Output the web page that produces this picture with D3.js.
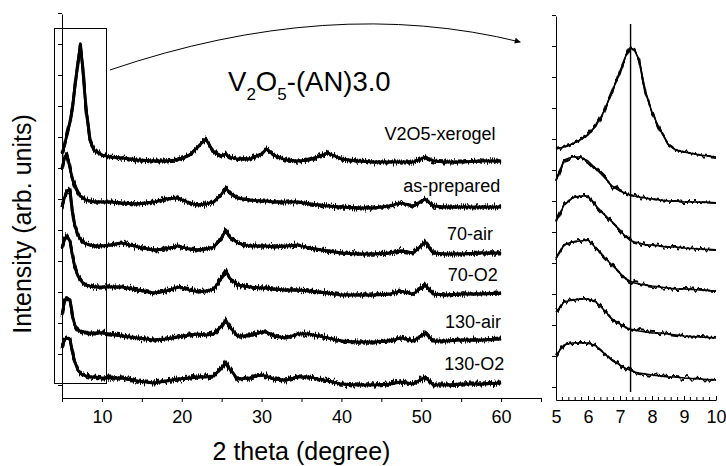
<!DOCTYPE html>
<html>
<head>
<meta charset="utf-8">
<script src="https://cdn.jsdelivr.net/npm/d3@7"></script>
<style>
  body { margin: 0; background: #fff; }
  svg { display: block; font-family: "Liberation Sans", Arial, sans-serif; }
</style>
</head>
<body>
<svg id="chart" width="726" height="466"></svg>
<script>
// sample names, top to bottom
var samples = ["V2O5-xerogel", "as-prepared", "70-air", "70-O2", "130-air", "130-O2"];

// main panel: 2 theta grid (degree) and stacked intensities (arb. units)
var mainTheta = [5, 5.3, 5.6, 6, 6.3, 6.6, 7, 7.3, 7.6, 8, 8.5, 9, 10, 11, 12.5, 14.5, 16.5, 18, 19.5, 21, 22, 23, 24, 25, 25.5, 26, 27, 28.5, 30, 30.6, 31.5, 33, 34.5, 36, 38.3, 40, 42, 44, 46, 47.4, 49, 50.5, 51.5, 53, 55, 57.5, 60];
var xerogelMain = [245, 252, 263, 276, 290, 310, 336, 353, 330, 290, 258, 248, 243, 241, 240, 238, 237, 237, 238, 243, 251, 259, 246, 242, 244, 241, 239, 239, 244, 249, 243, 238, 237, 238, 245, 239, 237, 236, 236, 236, 236, 241, 237, 236, 236, 237, 237];
var asPreparedMain = [230, 240, 244, 230, 219, 212, 205, 202, 200, 198, 197, 196, 196, 196, 195, 194, 196, 199, 200, 195, 193, 194, 196, 204, 210, 205, 200, 198, 197, 197, 196, 196, 196, 194, 192, 191, 190, 190, 192, 195, 192, 199, 192, 191, 191, 191, 191];
var air70Main = [191, 200, 207, 208, 186, 173, 163, 159, 156, 154, 153, 152, 152, 153, 155, 151, 148, 149, 152, 149, 148, 149, 151, 160, 168, 161, 155, 152, 152, 152, 151, 152, 153, 150, 147, 145, 144, 144, 145, 147, 145, 156, 145, 144, 144, 145, 145];
var o2_70Main = [150, 158, 162, 157, 143, 131, 122, 118, 115, 113, 112, 111, 111, 111, 111, 108, 105, 107, 111, 108, 106, 107, 109, 120, 127, 120, 113, 111, 110, 110, 109, 108, 108, 107, 105, 103, 103, 103, 104, 107, 104, 113, 104, 103, 104, 104, 105];
var air130Main = [83, 96, 100, 98, 83, 73, 68, 67, 66, 66, 65, 65, 65, 64, 62, 60, 58, 59, 61, 63, 64, 63, 64, 72, 78, 71, 62, 62, 66, 66, 62, 60, 64, 64, 60, 57, 56, 56, 57, 60, 57, 65, 57, 57, 58, 58, 59];
var o2_130Main = [50, 58, 60, 59, 46, 36, 28, 25, 23, 22, 21, 21, 20, 20, 20, 17, 15, 17, 19, 20, 21, 21, 22, 30, 36, 29, 19, 20, 23, 22, 19, 18, 21, 21, 17, 14, 13, 13, 14, 16, 14, 21, 13, 13, 14, 14, 15];

// zoomed panel: 5-10 degree
var zoomTheta = [5, 5.25, 5.5, 5.75, 6, 6.25, 6.5, 6.75, 7, 7.15, 7.3, 7.45, 7.6, 7.8, 8, 8.25, 8.5, 8.75, 9, 9.5, 10];
var xerogelZoom = [251, 253, 256, 260, 265, 274, 289, 308, 328, 342, 352, 350, 340, 307, 288, 270, 256, 250, 248, 245, 243];
var asPreparedZoom = [220, 240, 243, 243, 239, 231, 223, 214, 209, 207, 205, 204, 203, 202, 201, 200, 199, 199, 198, 198, 197];
var air70Zoom = [178, 195, 202, 204, 204, 194, 186, 178, 170, 164, 160, 158, 157, 155, 155, 154, 153, 153, 152, 151, 150];
var o2_70Zoom = [142, 155, 158, 159, 160, 152, 143, 135, 127, 122, 119, 117, 116, 115, 114, 113, 112, 111, 111, 110, 109];
var air130Zoom = [88, 98, 100, 101, 101, 98, 90, 81, 76, 73, 71, 70, 69, 68, 67, 67, 66, 65, 64, 63, 62];
var o2_130Zoom = [45, 55, 57, 57, 57, 54, 47, 40, 35, 32, 30, 28, 27, 26, 25, 24, 23, 23, 22, 21, 20];

var mainSeries = [xerogelMain, asPreparedMain, air70Main, o2_70Main, air130Main, o2_130Main];
var zoomSeries = [xerogelZoom, asPreparedZoom, air70Zoom, o2_70Zoom, air130Zoom, o2_130Zoom];

// axis ticks
var mainXTicks = d3.range(5, 66, 5);
var mainXLabels = [10, 20, 30, 40, 50, 60];
var zoomXTicks = [5, 6, 7, 8, 9, 10];
var yTicks = d3.range(13, 390, 31);
var markedTheta = 7.33;

// where sample names sit (theta of right edge, intensity of baseline)
var labelTheta = [59.3, 59.9, 59.0, 59.6, 60.0, 60.4];
var labelValue = [258, 206.5, 158, 117, 70, 28];

var svg = d3.select("#chart");
var defs = svg.append("defs");

// rough look of the counting noise
function noiseFilter(id, freq, amount, seed) {
  var f = defs.append("filter")
      .attr("id", id)
      .attr("filterUnits", "userSpaceOnUse")
      .attr("x", 0).attr("y", 0).attr("width", 726).attr("height", 466);
  f.append("feTurbulence")
      .attr("type", "fractalNoise")
      .attr("baseFrequency", freq)
      .attr("numOctaves", 1)
      .attr("seed", seed)
      .attr("result", "t");
  f.append("feColorMatrix")
      .attr("in", "t")
      .attr("type", "matrix")
      .attr("values", "0 0 0 0 0.5  0 1 0 0 0  0 0 0 0 0  0 0 0 0 1")
      .attr("result", "m");
  f.append("feDisplacementMap")
      .attr("in", "SourceGraphic")
      .attr("in2", "m")
      .attr("scale", amount)
      .attr("xChannelSelector", "R")
      .attr("yChannelSelector", "G");
}
noiseFilter("noisyMain", "0.9 0.02", 11, 4);
noiseFilter("noisyMain2", "0.7 0.03", 13, 9);
noiseFilter("noisyZoom", "0.35 0.02", 11, 4);

defs.append("marker")
    .attr("id", "head")
    .attr("viewBox", "0 0 10 10")
    .attr("refX", 9).attr("refY", 5)
    .attr("markerWidth", 9).attr("markerHeight", 6)
    .attr("markerUnits", "userSpaceOnUse")
    .attr("orient", "auto")
  .append("path")
    .attr("d", "M0,0 L10,5 L0,10 z")
    .attr("fill", "#000");

var xMain = d3.scaleLinear().domain([5, 65]).range([62, 541]);
var yMain = d3.scaleLinear().domain([0, 384]).range([398, 14]);
var xZoom = d3.scaleLinear().domain([5, 10]).range([556, 716]);
var yZoom = d3.scaleLinear().domain([0, 384]).range([400, 16]);

function styleAxis(g) {
  g.select(".domain").attr("stroke", "#000");
  g.selectAll(".tick line").attr("stroke", "#000");
  g.selectAll(".tick text")
    .attr("fill", "#000")
    .style("font-size", "18px")
    .style("font-family", "'Liberation Sans', Arial, sans-serif");
}

// axes, main panel
svg.append("g")
    .attr("transform", "translate(0," + yMain(0) + ")")
    .call(d3.axisBottom(xMain)
      .tickValues(mainXTicks)
      .tickSizeInner(4).tickSizeOuter(0).tickPadding(8)
      .tickFormat(function(d) { return mainXLabels.indexOf(d) >= 0 ? d : ""; }))
    .call(styleAxis);

svg.append("g")
    .attr("transform", "translate(" + xMain(5) + ",0)")
    .call(d3.axisLeft(yMain).tickValues(yTicks).tickSizeInner(4).tickSizeOuter(0).tickFormat(""))
    .call(styleAxis);

// axes, zoom panel
svg.append("g")
    .attr("transform", "translate(0," + yZoom(0) + ")")
    .call(d3.axisBottom(xZoom)
      .tickValues(zoomXTicks)
      .tickSizeInner(-4).tickSizeOuter(0).tickPadding(10)
      .tickFormat(d3.format("d")))
    .call(styleAxis);

svg.append("g")
    .attr("transform", "translate(0," + yZoom(0) + ")")
    .selectAll("line")
    .data(d3.range(5.2, 10, 0.2).filter(function(d) { return Math.abs(d - Math.round(d)) > 0.05; }))
    .join("line")
    .attr("x1", function(d) { return xZoom(d); })
    .attr("x2", function(d) { return xZoom(d); })
    .attr("y1", 0).attr("y2", -3)
    .attr("stroke", "#000");

svg.append("g")
    .attr("transform", "translate(" + xZoom(5) + ",0)")
    .call(d3.axisLeft(yZoom).tickValues(yTicks).tickSizeInner(4).tickSizeOuter(0).tickFormat(""))
    .call(styleAxis);

// traces
var lineMain = d3.line()
    .x(function(d) { return xMain(d[0]); })
    .y(function(d) { return yMain(d[1]); });
var lineZoom = d3.line()
    .x(function(d) { return xZoom(d[0]); })
    .y(function(d) { return yZoom(d[1]); });

function drawTraces(series, theta, line, layers) {
  var rows = series.map(function(vals) {
    return theta.map(function(t, i) { return [t, vals[i]]; });
  });
  layers.forEach(function(layer) {
    var g = svg.append("g");
    if (layer.filter) g.attr("filter", "url(#" + layer.filter + ")");
    g.selectAll("path")
      .data(rows)
      .join("path")
        .attr("fill", "none")
        .attr("stroke", "#000")
        .attr("stroke-width", layer.width)
        .attr("stroke-linejoin", "round")
        .attr("d", line);
  });
}
drawTraces(mainSeries, mainTheta, lineMain, [
  {width: 2.8},
  {width: 3, filter: "noisyMain"},
  {width: 1.6, filter: "noisyMain2"}
]);
drawTraces(zoomSeries, zoomTheta, lineZoom, [
  {width: 1.5},
  {width: 2.2, filter: "noisyZoom"}
]);

// marked position in zoom panel
svg.append("line")
    .attr("x1", xZoom(markedTheta)).attr("x2", xZoom(markedTheta))
    .attr("y1", yZoom(376)).attr("y2", yZoom(8))
    .attr("stroke", "#000")
    .attr("stroke-width", 1.4);

// window that is enlarged
svg.append("rect")
    .attr("x", Math.round(xMain(4)) + 0.5).attr("y", Math.round(yMain(370)) + 0.5)
    .attr("width", Math.round(xMain(10.5) - xMain(4)))
    .attr("height", Math.round(yMain(15) - yMain(370)))
    .attr("fill", "none")
    .attr("stroke", "#000")
    .attr("stroke-width", 1);

// curved arrow to zoom panel
var p0 = [xMain(11), yMain(328)], c = [xMain(38.6), yMain(403)], p1 = [xMain(62.4), yMain(356)];
svg.append("path")
    .attr("d", "M" + p0 + " Q" + c + " " + p1)
    .attr("fill", "none")
    .attr("stroke", "#000")
    .attr("stroke-width", 1)
    .attr("marker-end", "url(#head)");

// sample labels
svg.append("g").selectAll("text")
    .data(samples)
    .join("text")
    .attr("x", function(d, i) { return xMain(labelTheta[i]); })
    .attr("y", function(d, i) { return yMain(labelValue[i]); })
    .attr("text-anchor", "end")
    .style("font-size", "18px")
    .text(function(d) { return d; });

// title V2O5-(AN)3.0
var title = svg.append("text")
    .attr("x", xMain(25.8))
    .attr("y", yMain(307))
    .style("font-size", "27.5px");
title.append("tspan").text("V");
title.append("tspan").attr("dy", 9).style("font-size", "17px").text("2");
title.append("tspan").attr("dy", -9).text("O");
title.append("tspan").attr("dy", 9).style("font-size", "17px").text("5");
title.append("tspan").attr("dy", -9).text("-(AN)3.0");

// axis titles
svg.append("text")
    .attr("x", xMain(35))
    .attr("y", 460)
    .attr("text-anchor", "middle")
    .style("font-size", "25px")
    .text("2 theta (degree)");

svg.append("text")
    .attr("transform", "translate(31,224) rotate(-90)")
    .attr("text-anchor", "middle")
    .style("font-size", "25px")
    .text("Intensity (arb. units)");
</script>
</body>
</html>
